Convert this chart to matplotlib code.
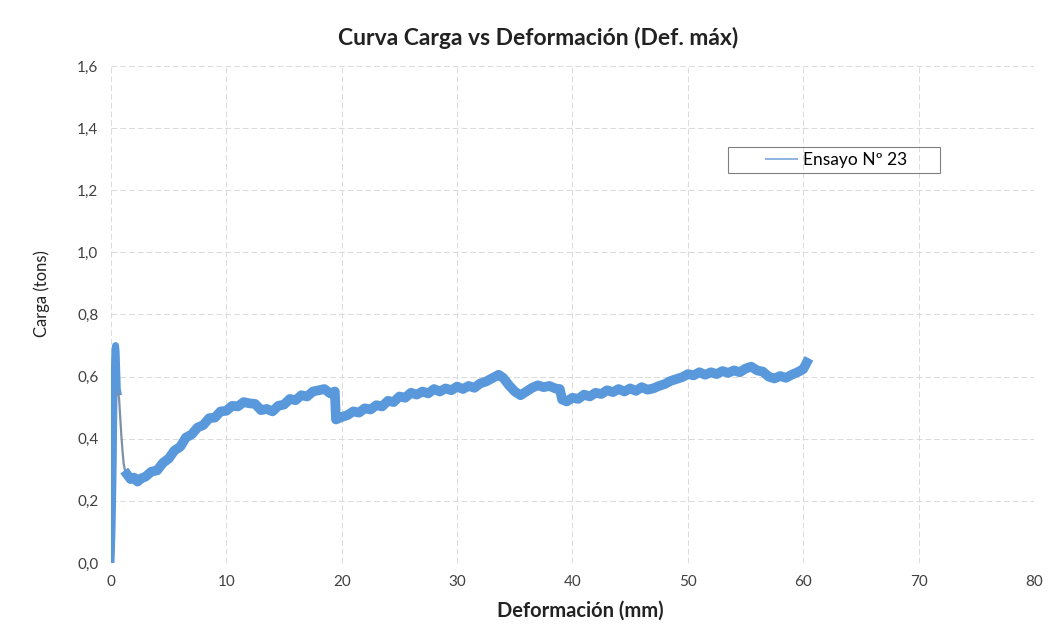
import matplotlib.pyplot as plt
from matplotlib.patches import Rectangle
from matplotlib.ticker import FuncFormatter

# initial loading ramp (vertical band near x=0)
rise_x = [0.0, 0.05, 0.1, 0.15, 0.2, 0.22, 0.25, 0.28, 0.3, 0.33, 0.35, 0.4, 0.45, 0.5, 0.55, 0.6]
rise_y = [0.0, 0.05, 0.12, 0.22, 0.33, 0.42, 0.50, 0.58, 0.63, 0.67, 0.69, 0.70, 0.68, 0.62, 0.56, 0.55]

# thin drop after the peak
fall_x = [0.6, 0.7, 0.8, 0.9, 1.0, 1.1, 1.2, 1.3, 1.4]
fall_y = [0.55, 0.53, 0.47, 0.41, 0.36, 0.32, 0.30, 0.29, 0.285]

# main noisy band
main_x = [1.4, 1.7, 2.0, 2.3, 2.6, 3.0, 3.5, 4.0, 4.5, 5.0, 5.5, 6.0, 6.5, 7.0, 7.5,
          8.0, 8.5, 9.0, 9.5, 10.0, 10.5, 11.0, 11.5, 12.0, 12.5, 13.0, 13.5, 14.0, 14.5,
          15.0, 15.5, 16.0, 16.5, 17.0, 17.5, 18.0, 18.5, 19.0, 19.4, 19.5, 20.0, 20.5,
          21.0, 21.5, 22.0, 22.5, 23.0, 23.5, 24.0, 24.5, 25.0, 25.5, 26.0, 26.5, 27.0,
          27.5, 28.0, 28.5, 29.0, 29.5, 30.0, 30.5, 31.0, 31.5, 32.0, 32.5, 33.0, 33.6,
          34.0, 34.5, 35.0, 35.5, 36.0, 36.5, 37.0, 37.5, 38.0, 38.5, 38.9, 39.1, 39.5,
          40.0, 40.5, 41.0, 41.5, 42.0, 42.5, 43.0, 43.5, 44.0, 44.5, 45.0, 45.5, 46.0,
          46.5, 47.0, 47.5, 48.0, 48.5, 49.0, 49.5, 50.0, 50.5, 51.0, 51.5, 52.0, 52.5,
          53.0, 53.5, 54.0, 54.5, 55.0, 55.5, 56.0, 56.5, 57.0, 57.5, 58.0, 58.5, 59.0,
          59.5, 60.0, 60.3]
main_y = [0.285, 0.270, 0.275, 0.262, 0.272, 0.278, 0.294, 0.298, 0.322, 0.336, 0.362, 0.374, 0.404, 0.414, 0.436,
          0.444, 0.466, 0.468, 0.488, 0.490, 0.506, 0.504, 0.518, 0.514, 0.512, 0.492, 0.496, 0.488, 0.506,
          0.510, 0.528, 0.524, 0.540, 0.536, 0.552, 0.556, 0.560, 0.546, 0.552, 0.462, 0.470, 0.476,
          0.488, 0.484, 0.498, 0.494, 0.508, 0.504, 0.522, 0.518, 0.536, 0.532, 0.548, 0.542, 0.552,
          0.546, 0.560, 0.552, 0.562, 0.556, 0.568, 0.560, 0.570, 0.564, 0.578, 0.584, 0.594, 0.606,
          0.596, 0.572, 0.552, 0.540, 0.552, 0.564, 0.572, 0.566, 0.570, 0.562, 0.560, 0.526, 0.520,
          0.532, 0.528, 0.542, 0.536, 0.548, 0.544, 0.556, 0.550, 0.560, 0.552, 0.562, 0.554, 0.566,
          0.558, 0.562, 0.570, 0.576, 0.586, 0.592, 0.598, 0.608, 0.604, 0.614, 0.606, 0.614, 0.608,
          0.618, 0.612, 0.620, 0.614, 0.626, 0.632, 0.620, 0.616, 0.600, 0.594, 0.602, 0.596, 0.606,
          0.614, 0.624, 0.645]

label = 'Ensayo Nº 23'
blue = '#5a98dc'

plt.rcParams['font.family'] = ['Lato', 'DejaVu Sans']

fig = plt.figure(figsize=(10.63, 6.32), dpi=100)
ax = fig.add_axes([0.1044, 0.1092, 0.8683, 0.7864])

ax.plot(rise_x, rise_y, color=blue, lw=5, solid_joinstyle='round')
ax.plot(fall_x, fall_y, color='#7f8fa6', lw=1.6)
ax.plot(main_x, main_y, color=blue, lw=7, solid_joinstyle='round', label=label)

ax.set_xlim(0, 80)
ax.set_ylim(0, 1.6)
ax.set_xticks(range(0, 81, 10))
ax.set_yticks([i * 0.2 for i in range(9)])
ax.yaxis.set_major_formatter(FuncFormatter(lambda v, p: f'{v:.1f}'.replace('.', ',')))
ax.grid(True, color='#dadada', lw=0.7, ls=(0, (6, 3)))
for s in ax.spines.values():
    s.set_visible(False)
ax.tick_params(length=0, labelsize=11, labelcolor='#404040', pad=9)

fig.text(0.506, 1 - 38 / 632, 'Curva Carga vs Deformación (Def. máx)', fontsize=16.5,
         fontweight='bold', color='#222222', ha='center', va='center')
ax.set_xlabel('Deformación (mm)', fontsize=14.5, fontweight='bold', color='#222222')
ax.xaxis.set_label_coords(0.508, -0.076)
ax.set_ylabel('Carga (tons)', fontsize=12, color='#222222')
ax.yaxis.set_label_coords(-0.066, 0.543)

# legend box like the Excel one
ax.add_patch(Rectangle((0.668, 0.785), 0.23, 0.052, transform=ax.transAxes,
                       fill=False, edgecolor='#808080', lw=0.8, zorder=5))
leg = ax.legend(loc='center', bbox_to_anchor=(0.786, 0.811), fontsize=12.5,
                frameon=False, handlelength=1.8, handletextpad=0.3, borderpad=0)
for h in leg.get_lines():
    h.set_linewidth(1.4)
    h.set_color('#8db6e2')

fig.savefig('out.png', dpi=100, facecolor='white')
